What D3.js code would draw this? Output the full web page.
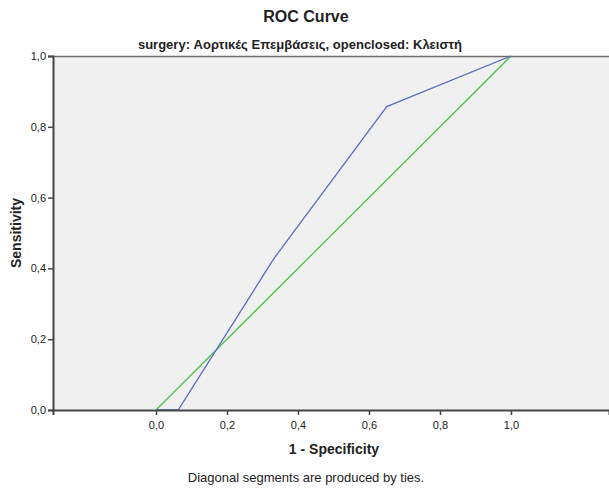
<!doctype html>
<html>
<head>
<meta charset="utf-8">
<script src="https://cdn.jsdelivr.net/npm/d3@7"></script>
<style>
body { margin: 0; background: #fff; }
text { font-family: Arial, "Liberation Sans", sans-serif; fill: #222; }
</style>
</head>
<body>
<script>
// ROC curve points (1 - specificity, sensitivity)
var fpr = [0, 0.0625, 0.333, 0.65, 1];
var tpr = [0, 0, 0.429, 0.857, 1];
// reference diagonal
var refX = [0, 1];
var refY = [0, 1];
var xTicks = [0, 0.2, 0.4, 0.6, 0.8, 1];
var yTicks = [0, 0.2, 0.4, 0.6, 0.8, 1];

var W = 609, H = 488;
var margin = {top: 56, right: 0, bottom: 78, left: 53};
var width = W - margin.left - margin.right,
    height = H - margin.top - margin.bottom;

var svg = d3.select("body").append("svg")
    .attr("width", W)
    .attr("height", H);

var g = svg.append("g")
    .attr("transform", "translate(" + margin.left + "," + margin.top + ")");

var x = d3.scaleLinear().domain([-0.2901, 1.2761]).range([0, width]);
var y = d3.scaleLinear().domain([0, 1]).range([height, 0]);

var fmt = function(d) { return d3.format(".1f")(d).replace(".", ","); };

// background
g.append("rect")
    .attr("width", width).attr("height", height)
    .attr("fill", "#f0f0f0");

// top border
g.append("line")
    .attr("x1", 0).attr("x2", width)
    .attr("y1", 0.5).attr("y2", 0.5)
    .attr("stroke", "#6e6e6e").attr("stroke-width", 1.5);

// reference line
var refData = refX.map(function(d, i) { return [d, refY[i]]; });
g.append("path")
    .datum(refData)
    .attr("fill", "none")
    .attr("stroke", "#4dc24d")
    .attr("stroke-width", 1.3)
    .attr("d", d3.line().x(function(d) { return x(d[0]); }).y(function(d) { return y(d[1]); }));

// roc curve
var rocData = fpr.map(function(d, i) { return [d, tpr[i]]; });
g.append("path")
    .datum(rocData)
    .attr("fill", "none")
    .attr("stroke", "#5a6fc4")
    .attr("stroke-width", 1.3)
    .attr("d", d3.line().x(function(d) { return x(d[0]); }).y(function(d) { return y(d[1]); }));

// x axis
var xAxis = g.append("g")
    .attr("transform", "translate(0," + height + ")")
    .call(d3.axisBottom(x).tickValues(xTicks).tickFormat(fmt).tickSizeOuter(0).tickSize(5).tickPadding(6));
xAxis.select(".domain").attr("stroke", "#444").attr("stroke-width", 2);
xAxis.selectAll(".tick line").attr("stroke", "#444").attr("stroke-width", 1.5);
xAxis.selectAll("text").style("font-size", "11px").attr("fill", "#222");

// y axis
var yAxis = g.append("g")
    .call(d3.axisLeft(y).tickValues(yTicks).tickFormat(fmt).tickSizeOuter(0).tickSize(5).tickPadding(2));
yAxis.select(".domain").attr("stroke", "#444").attr("stroke-width", 2);
yAxis.selectAll(".tick line").attr("stroke", "#444").attr("stroke-width", 1.5);
yAxis.selectAll("text").style("font-size", "11px").attr("fill", "#222");

// titles
svg.append("text")
    .attr("x", 306).attr("y", 22)
    .attr("text-anchor", "middle")
    .style("font-size", "16px").style("font-weight", "bold")
    .text("ROC Curve");

svg.append("text")
    .attr("x", 300).attr("y", 49)
    .attr("text-anchor", "middle")
    .style("font-size", "13px").style("font-weight", "bold")
    .text("surgery: Αορτικές Επεμβάσεις, openclosed: Κλειστή");

svg.append("text")
    .attr("x", 334).attr("y", 454)
    .attr("text-anchor", "middle")
    .style("font-size", "14px").style("font-weight", "bold")
    .text("1 - Specificity");

svg.append("text")
    .attr("transform", "translate(21,233) rotate(-90)")
    .attr("text-anchor", "middle")
    .style("font-size", "14px").style("font-weight", "bold")
    .text("Sensitivity");

svg.append("text")
    .attr("x", 306).attr("y", 482)
    .attr("text-anchor", "middle")
    .style("font-size", "13px")
    .attr("fill", "#333")
    .text("Diagonal segments are produced by ties.");
</script>
</body>
</html>
